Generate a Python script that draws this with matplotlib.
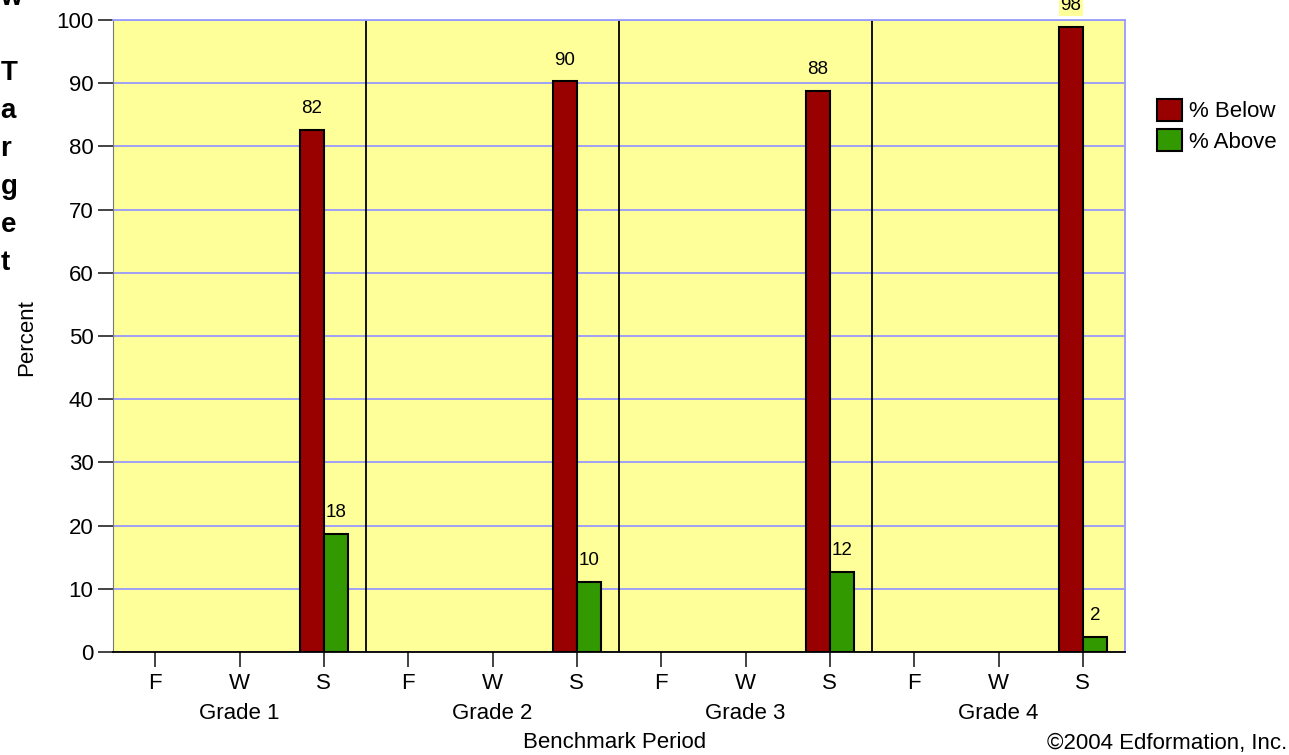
import numpy as np
import matplotlib
matplotlib.use("Agg")
import matplotlib.pyplot as plt

plt.rcParams['font.family'] = ['Liberation Sans', 'DejaVu Sans']

# data
grades = ["Grade 1", "Grade 2", "Grade 3", "Grade 4"]
periods = ["F", "W", "S"]
below = [82.6, 90.3, 88.8, 98.9]     # spring bars, % below
above = [18.7, 11.1, 12.7, 2.4]      # spring bars, % above
below_lbl = ["82", "90", "88", "98"]
above_lbl = ["18", "10", "12", "2"]
yticks = [0, 10, 20, 30, 40, 50, 60, 70, 80, 90, 100]
side_letters = ["w", "T", "a", "r", "g", "e", "t"]

red = "#990000"
green = "#339900"
bg = "#ffff99"
grid = "#9999ff"
fs = 16

fig = plt.figure(figsize=(12.89, 7.55), dpi=100)
ax = fig.add_axes([113/1289, 1-652/755, (1125-113)/1289, (652-20)/755])
ax.set_facecolor(bg)

w = 0.285
ng = len(grades)
ticks = []
for g in range(ng):
    for s in range(len(periods)):
        ticks.append(g*3 + s + 0.5)
spring = np.arange(ng)*3 + 2.5

ax.bar(spring - w/2, below, w, color=red, edgecolor="black", linewidth=1.5, zorder=3, label="% Below")
ax.bar(spring + w/2, above, w, color=green, edgecolor="black", linewidth=1.5, zorder=3, label="% Above")

# value labels sit under the bars so their yellow boxes never cover an edge
for i in range(ng):
    ax.annotate(below_lbl[i], (spring[i] - w/2, below[i]), xytext=(0, 9), textcoords="offset points",
                ha="center", va="bottom", fontsize=13.5, zorder=2.5, annotation_clip=False,
                bbox=dict(boxstyle="square,pad=0.1", fc=bg, ec="none"))
    ax.annotate(above_lbl[i], (spring[i] + w/2, above[i]), xytext=(0, 9), textcoords="offset points",
                ha="center", va="bottom", fontsize=13.5, zorder=2.5, annotation_clip=False,
                bbox=dict(boxstyle="square,pad=0.1", fc=bg, ec="none"))

for g in range(1, ng):
    ax.axvline(g*3, color="black", linewidth=1.3, zorder=2)

ax.set_xlim(0, ng*3)
ax.set_ylim(0, 100)
ax.set_yticks(yticks)
ax.yaxis.grid(True, color=grid, linewidth=1.3, zorder=1)
ax.set_axisbelow(True)
ax.set_xticks(ticks)
ax.set_xticklabels(periods*ng)
ax.tick_params(axis="y", length=11, width=1.2, color="#222222", labelsize=fs, pad=3)
ax.tick_params(axis="x", length=11, width=1.2, color="#222222", labelsize=fs, pad=4)

for side in ["top", "right"]:
    ax.spines[side].set_color(grid)
    ax.spines[side].set_linewidth(1.3)
ax.spines["left"].set_color("#777777")
ax.spines["bottom"].set_color("black")
ax.spines["bottom"].set_linewidth(1.3)

for g in range(ng):
    ax.text(g*3 + 1.5, -9.8, grades[g], ha="center", va="center", fontsize=fs,
            transform=ax.transData, clip_on=False)

fig.text(615/1289, 1-742/755, "Benchmark Period", ha="center", va="center", fontsize=fs)
fig.text(27/1289, 1-338/755, "Percent", rotation=90, ha="center", va="center", fontsize=fs)
fig.text(1287/1289, 1-743/755, "\u00a92004 Edformation, Inc.", ha="right", va="center", fontsize=fs)

# wrapped text cut off at the left edge
ys = [-2, 73, 111, 149, 187, 225, 263]
for ch, y in zip(side_letters, ys):
    fig.text(0.5/1289, 1-y/755, ch, ha="left", va="center", fontsize=20, fontweight="bold")

ax.legend(loc="upper left", bbox_to_anchor=(1148/1289, 1-90/755), bbox_transform=fig.transFigure,
          frameon=False, fontsize=fs, handlelength=1.15, handleheight=1.15, handletextpad=0.3,
          labelspacing=0.3, borderaxespad=0)

fig.savefig("out.png", dpi=100)
